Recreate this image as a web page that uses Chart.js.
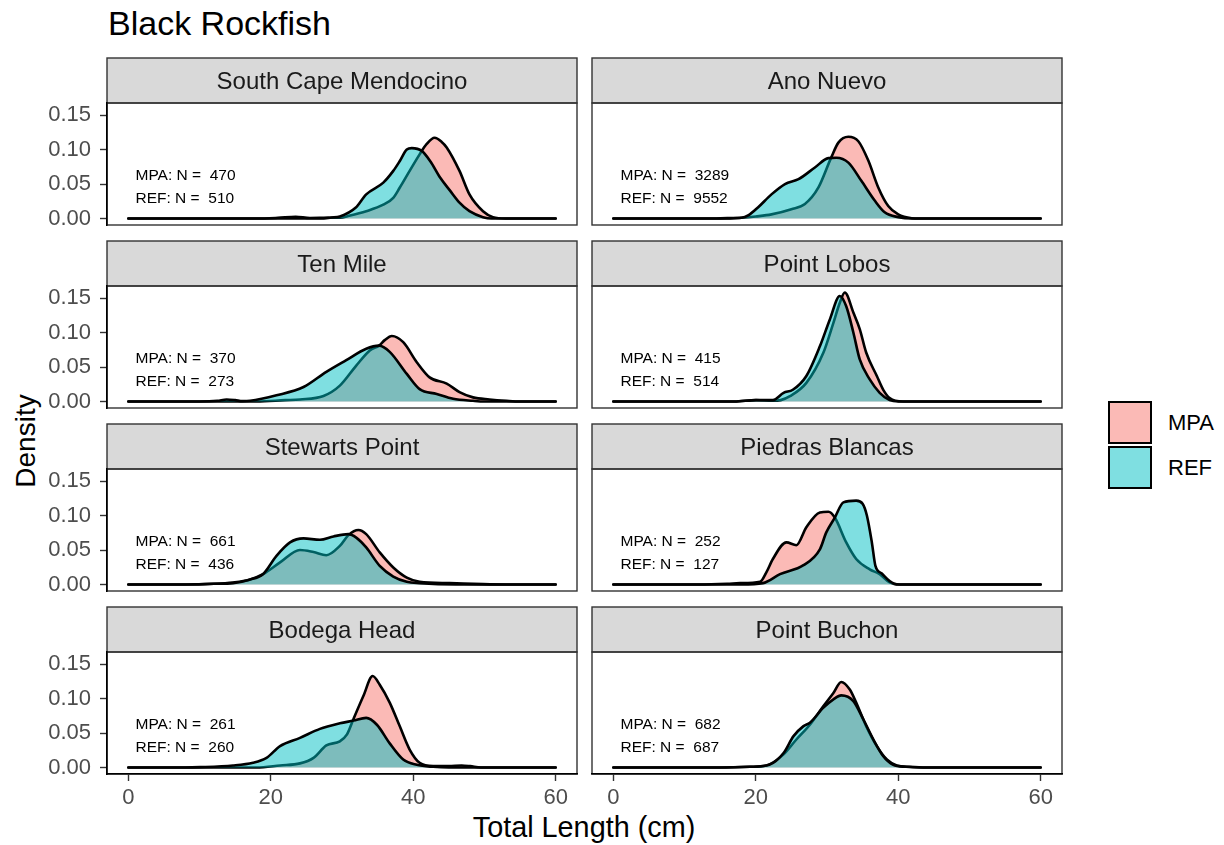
<!DOCTYPE html>
<html>
<head>
<meta charset="utf-8">
<title>Black Rockfish</title>
<script src="https://cdn.jsdelivr.net/npm/chart.js"></script>
<style>
  body { margin: 0; background: #fff; width: 1224px; height: 845px; position: relative; overflow: hidden;
         font-family: 'Liberation Sans', Arial, sans-serif; }
  canvas { position: absolute; }
  .txt { position: absolute; white-space: nowrap; color: #000; }
  .key { position: absolute; box-sizing: border-box; width: 44px; height: 43px; border: 2px solid #000; }
</style>
</head>
<body>
<div class="txt" style="left:108px; top:6px; font-size:34px; line-height:34px;">Black Rockfish</div>
<div class="txt" style="left:584px; top:813px; font-size:28.8px; line-height:29px; transform:translateX(-50%);">Total Length (cm)</div>
<div class="txt" style="left:-74px; top:427px; width:200px; text-align:center; font-size:28px; line-height:28px; transform:rotate(-90deg);">Density</div>
<div class="key" style="left:1108px; top:401px; background:rgba(248,118,109,0.5);"></div>
<div class="key" style="left:1108px; top:446px; background:rgba(0,191,196,0.5);"></div>
<div class="txt" style="left:1168px; top:412px; font-size:22px; line-height:22px;">MPA</div>
<div class="txt" style="left:1168px; top:457px; font-size:22px; line-height:22px;">REF</div>

<script>
'use strict';

const sites = ['South Cape Mendocino', 'Ano Nuevo', 'Ten Mile', 'Point Lobos',
               'Stewarts Point', 'Piedras Blancas', 'Bodega Head', 'Point Buchon'];
const nMPA = [470, 3289, 370, 415, 661, 252, 261, 682];
const nREF = [510, 9552, 273, 514, 436, 127, 260, 687];
const xTicks = [0, 20, 40, 60];
const yTicks = [0, 0.05, 0.10, 0.15];

// density curves: [total length cm, density]
const southCapeMPA = [[0,0],[18,0],[21,0.001],[23.5,0.0025],[25.5,0.0008],[28,0.001],[29.7,0.0012],[31,0.004],[33.4,0.0106],[35.8,0.020],[37.2,0.030],[38.1,0.0446],[39.5,0.069],[40.9,0.093],[41.9,0.108],[43,0.117],[44,0.111],[44.7,0.103],[46.5,0.069],[47.9,0.035],[49.8,0.0106],[51.2,0.002],[53,0],[60,0]];
const southCapeREF = [[0,0],[27,0],[28.5,0.0015],[29.7,0.003],[31.9,0.0155],[33.4,0.035],[35.8,0.052],[37.2,0.069],[38.1,0.083],[39.1,0.100],[39.8,0.102],[41.2,0.098],[42.4,0.083],[43.8,0.059],[45.2,0.040],[46.5,0.023],[47.9,0.0106],[49.8,0.002],[51,0],[60,0]];
const anoNuevoMPA = [[0,0],[16,0],[18,0.001],[20,0.003],[22.2,0.006],[25,0.0135],[26.9,0.021],[28.8,0.045],[30.6,0.0886],[31.6,0.110],[33,0.1185],[34.4,0.112],[35.8,0.084],[37.2,0.045],[38.6,0.018],[40,0.006],[41.9,0.0005],[43,0],[60,0]];
const anoNuevoREF = [[0,0],[14,0],[16,0.0005],[18,0.001],[19,0.005],[20.3,0.016],[22.2,0.035],[24.1,0.050],[26,0.057],[28.3,0.074],[30.2,0.0875],[31.3,0.088],[33,0.081],[34.8,0.055],[36.7,0.026],[38.1,0.009],[40,0.002],[42,0],[60,0]];
const tenMileMPA = [[0,0],[18,0],[22,0.002],[24.1,0.003],[27.4,0.008],[29.7,0.023],[32,0.052],[33.9,0.074],[35.2,0.081],[36,0.089],[37,0.095],[38.6,0.086],[40.5,0.057],[42.3,0.035],[44.7,0.026],[46.5,0.0136],[48.4,0.006],[50.7,0.003],[53.1,0.001],[55,0],[60,0]];
const tenMileREF = [[0,0],[10,0],[12.5,0.001],[13.8,0.003],[15,0.002],[16,0.0005],[17.1,0.001],[20.8,0.009],[24.6,0.021],[27.8,0.043],[30.6,0.060],[33.4,0.0765],[35.2,0.081],[36.7,0.072],[39.1,0.040],[40.9,0.018],[43.3,0.011],[45.6,0.004],[48.4,0.001],[50,0],[60,0]];
const pointLobosMPA = [[0,0],[17,0],[20,0.002],[22.4,0.001],[23.5,0.002],[24.8,0.0077],[27.1,0.027],[29.5,0.071],[30.9,0.114],[31.8,0.143],[32.5,0.158],[33.7,0.129],[34.6,0.105],[35.5,0.071],[37,0.037],[37.9,0.017],[38.8,0.005],[40.7,0],[60,0]];
const pointLobosREF = [[0,0],[17,0],[20.1,0.002],[22.4,0.002],[23.9,0.0126],[25.2,0.017],[27.1,0.037],[29,0.080],[30.4,0.119],[31.8,0.153],[32.7,0.138],[33.7,0.100],[34.6,0.061],[36,0.032],[37.4,0.0126],[38.8,0.002],[40,0],[60,0]];
const stewartsMPA = [[0,0],[8,0],[12,0.001],[14.7,0.003],[17,0.007],[18.9,0.015],[21.3,0.032],[24.1,0.050],[26,0.047],[27.8,0.0425],[29.7,0.056],[30.9,0.0716],[32.3,0.079],[33.4,0.073],[35.3,0.0465],[37.2,0.0247],[39.1,0.010],[40.9,0.004],[45.1,0.002],[49.8,0.0005],[53,0],[60,0]];
const stewartsREF = [[0,0],[8,0],[12,0.001],[14.7,0.002],[17,0.007],[18.9,0.015],[20.8,0.0415],[22.7,0.061],[24.6,0.0668],[26.9,0.0648],[28.8,0.0697],[30.9,0.073],[32,0.068],[33.4,0.0537],[35.3,0.027],[37.2,0.0116],[39.1,0.004],[40.9,0.002],[46,0],[60,0]];
const piedrasMPA = [[0,0],[12,0],[16,0.001],[17.8,0.002],[20.6,0.004],[21.5,0.018],[22.4,0.037],[24.3,0.061],[25.7,0.057],[27.1,0.083],[29,0.1045],[30.2,0.1055],[31.1,0.097],[32.7,0.061],[34.1,0.037],[36,0.022],[37.4,0.015],[38.8,0.003],[40.2,0],[60,0]];
const piedrasREF = [[0,0],[18,0],[21,0.002],[23.4,0.015],[26.7,0.028],[29,0.051],[29.9,0.0755],[31.1,0.097],[32.3,0.119],[34.1,0.1215],[35,0.117],[35.6,0.100],[36.3,0.061],[36.8,0.027],[37.7,0.016],[38.8,0.005],[40,0],[60,0]];
const bodegaMPA = [[0,0],[18,0],[21.3,0.003],[24.1,0.006],[26,0.014],[27.8,0.032],[29.7,0.038],[30.7,0.048],[31.6,0.070],[33,0.1035],[34.3,0.1326],[35.3,0.120],[36.7,0.094],[38.1,0.060],[39.5,0.026],[40.9,0.0068],[42.8,0.002],[45,0.002],[46.8,0.003],[48,0.002],[49.5,0],[60,0]];
const bodegaREF = [[0,0],[8,0],[10.1,0.0005],[14.7,0.003],[17.5,0.007],[19.4,0.014],[21.3,0.031],[24.1,0.043],[26.9,0.056],[29.7,0.064],[31.6,0.068],[33.4,0.072],[34.9,0.062],[36.7,0.035],[38.6,0.0116],[40.5,0.004],[42.8,0.001],[45,0],[60,0]];
const buchonMPA = [[0,0],[15,0],[19.2,0.001],[21.5,0.003],[23.9,0.019],[25.7,0.0406],[27.6,0.062],[29.5,0.089],[30.9,0.108],[32,0.124],[33.2,0.113],[34.1,0.094],[35.5,0.060],[37,0.031],[38.4,0.0116],[39.8,0.003],[41.6,0.001],[44,0],[60,0]];
const buchonREF = [[0,0],[15,0],[19.2,0.001],[21.9,0.004],[23.9,0.021],[25.3,0.0455],[26.7,0.060],[27.6,0.065],[29.5,0.0867],[30.9,0.0987],[32,0.1045],[33.7,0.0963],[35.1,0.0697],[36.5,0.0407],[37.9,0.0164],[39.3,0.004],[41.1,0.001],[43,0],[60,0]];

const mpaCurves = [southCapeMPA, anoNuevoMPA, tenMileMPA, pointLobosMPA, stewartsMPA, piedrasMPA, bodegaMPA, buchonMPA];
const refCurves = [southCapeREF, anoNuevoREF, tenMileREF, pointLobosREF, stewartsREF, piedrasREF, bodegaREF, buchonREF];

Chart.defaults.font.family = "'Liberation Sans', Arial, sans-serif";

const mpaFill = 'rgba(248, 118, 109, 0.5)';
const refFill = 'rgba(0, 191, 196, 0.5)';
const stripH = 45;
const panelH = 122;
const canvasLeft = [0, 583];
const canvasTop = [56, 239, 422, 605];

const lineStyle = {
    borderColor: '#000',
    borderWidth: 2.6,
    borderJoinStyle: 'round',
    borderCapStyle: 'round',
    pointRadius: 0,
    fill: 'origin',
    cubicInterpolationMode: 'monotone'
};

// strip, panel border and the N labels
const panelDecor = {
    id: 'panelDecor',
    beforeDraw(chart, args, opts) {
        const { ctx, chartArea: a } = chart;
        ctx.save();
        ctx.fillStyle = '#D9D9D9';
        ctx.fillRect(a.left, a.top - stripH, a.right - a.left, stripH);
        ctx.strokeStyle = '#333333';
        ctx.lineWidth = 1.4;
        ctx.strokeRect(a.left, a.top - stripH, a.right - a.left, stripH);
        ctx.strokeRect(a.left, a.top, a.right - a.left, a.bottom - a.top);
        ctx.fillStyle = '#1A1A1A';
        ctx.font = "24px 'Liberation Sans', Arial, sans-serif";
        ctx.textAlign = 'center';
        ctx.textBaseline = 'alphabetic';
        ctx.fillText(opts.title, (a.left + a.right) / 2, a.top - stripH / 2 + 0.358 * 24);
        ctx.restore();
    },
    afterDatasetsDraw(chart, args, opts) {
        const { ctx, scales: { x, y } } = chart;
        ctx.save();
        ctx.fillStyle = '#000';
        ctx.font = "15.5px 'Liberation Sans', Arial, sans-serif";
        ctx.textAlign = 'left';
        ctx.textBaseline = 'alphabetic';
        ctx.fillText('MPA: N =  ' + opts.nMPA, x.getPixelForValue(1), y.getPixelForValue(0.064) + 5.5);
        ctx.fillText('REF: N =  ' + opts.nREF, x.getPixelForValue(1), y.getPixelForValue(0.031) + 5.5);
        ctx.restore();
    }
};

function toPoints(pairs) {
    return pairs.map(p => ({ x: p[0], y: p[1] }));
}

sites.forEach((site, i) => {
    const col = i % 2;
    const row = Math.floor(i / 2);
    const bottomRow = row === 3;
    const leftCol = col === 0;
    // room under the panel: x axis on the bottom row, tick-label overflow elsewhere
    const padBottom = bottomRow ? 4 : 26;

    const canvas = document.createElement('canvas');
    canvas.width = leftCol ? 587 : 489;
    canvas.height = 2 + stripH + panelH + (bottomRow ? 40 : 0) + padBottom;
    canvas.style.left = canvasLeft[col] + 'px';
    canvas.style.top = canvasTop[row] + 'px';
    document.body.appendChild(canvas);

    new Chart(canvas, {
        type: 'line',
        data: {
            datasets: [{
                label: 'MPA',
                data: toPoints(mpaCurves[i]),
                backgroundColor: mpaFill,
                order: 1,
                ...lineStyle
            }, {
                label: 'REF',
                data: toPoints(refCurves[i]),
                backgroundColor: refFill,
                order: 0,
                ...lineStyle
            }]
        },
        options: {
            responsive: false,
            animation: false,
            events: [],
            layout: {
                padding: { top: 2 + stripH, bottom: padBottom, left: leftCol ? 0 : 9, right: 10 }
            },
            plugins: {
                legend: { display: false },
                tooltip: { enabled: false },
                panelDecor: { title: site, nMPA: nMPA[i], nREF: nREF[i] }
            },
            scales: {
                x: {
                    type: 'linear',
                    min: -3,
                    max: 63,
                    display: bottomRow,
                    afterBuildTicks: s => { s.ticks = xTicks.map(v => ({ value: v })); },
                    afterFit: s => { s.height = bottomRow ? 40 : 0; },
                    grid: {
                        drawOnChartArea: false,
                        drawTicks: true,
                        tickLength: 7,
                        tickWidth: 1.4,
                        tickColor: '#333333'
                    },
                    border: { display: true, color: '#000', width: 1.6 },
                    ticks: {
                        padding: 4,
                        maxRotation: 0,
                        color: '#4D4D4D',
                        font: { size: 22 },
                        callback: v => String(v)
                    }
                },
                y: {
                    type: 'linear',
                    min: -0.0094,
                    max: 0.1674,
                    display: leftCol,
                    afterBuildTicks: s => { s.ticks = yTicks.map(v => ({ value: v })); },
                    afterFit: s => { s.width = leftCol ? 107 : 0; },
                    grid: {
                        drawOnChartArea: false,
                        drawTicks: true,
                        tickLength: 7,
                        tickWidth: 1.4,
                        tickColor: '#333333'
                    },
                    border: { display: true, color: '#000', width: 1.6 },
                    ticks: {
                        padding: 9,
                        color: '#4D4D4D',
                        font: { size: 22 },
                        callback: v => v.toFixed(2)
                    }
                }
            }
        },
        plugins: [panelDecor]
    });
});
</script>
</body>
</html>
